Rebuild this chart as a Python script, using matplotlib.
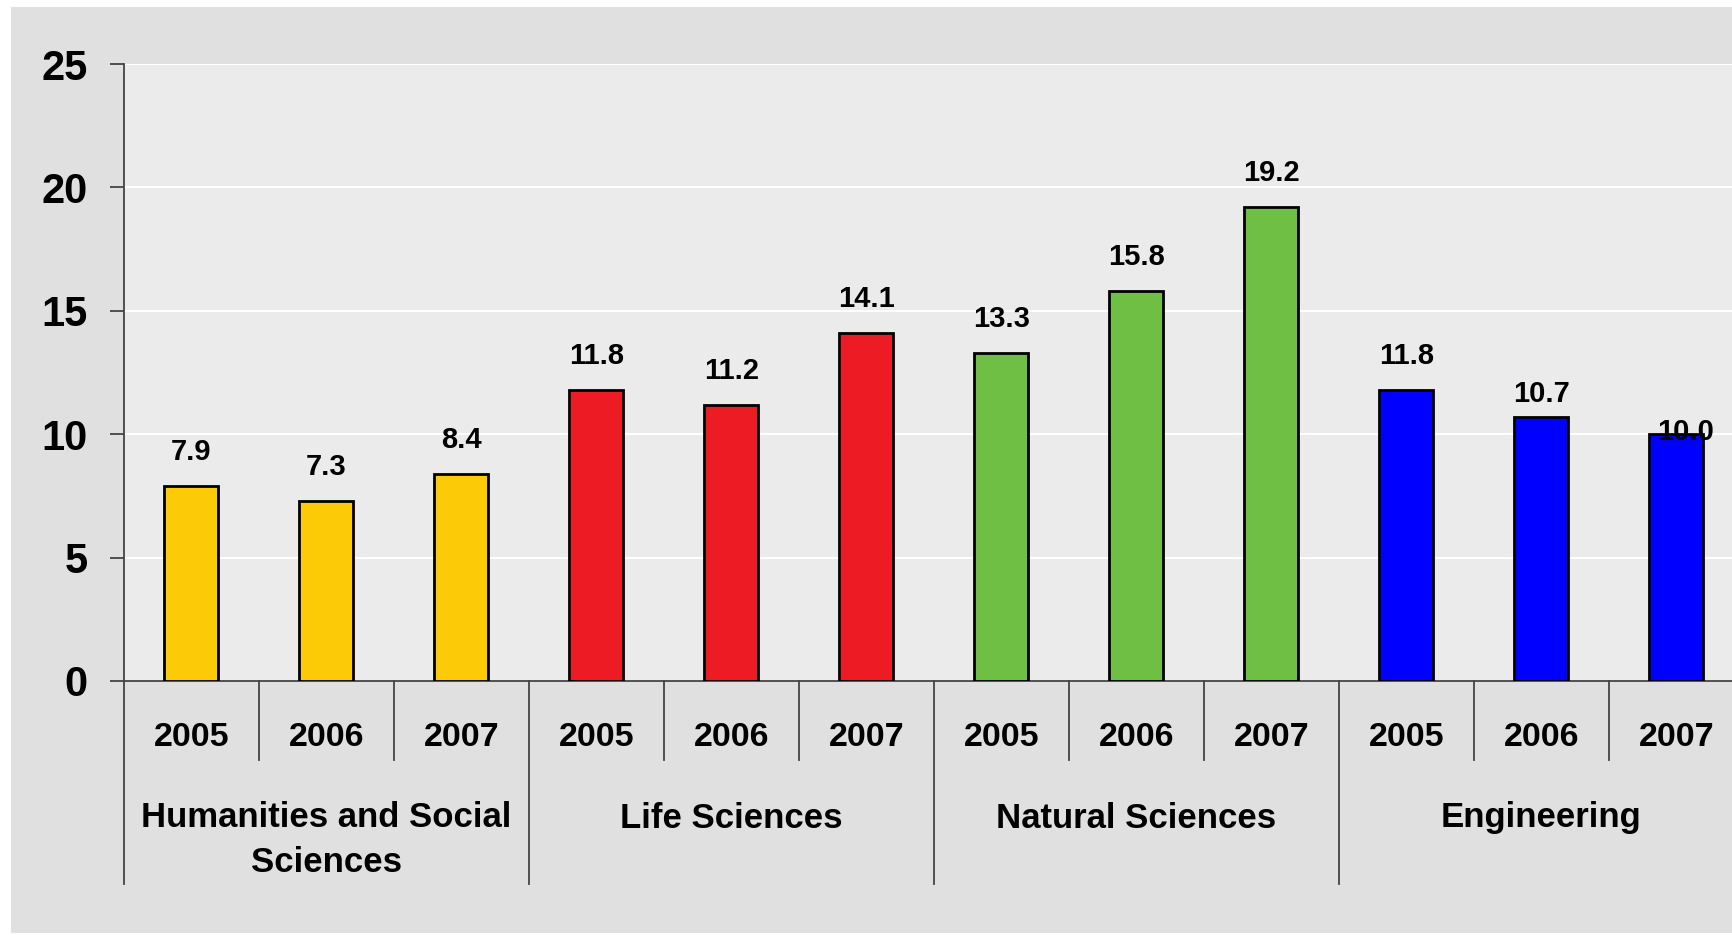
import matplotlib.pyplot as plt
import matplotlib.patches as mpatches
import numpy as np

groups = ["Humanities and Social\nSciences", "Life Sciences", "Natural Sciences", "Engineering"]
years = ["2005", "2006", "2007"]
values = [7.9, 7.3, 8.4, 11.8, 11.2, 14.1, 13.3, 15.8, 19.2, 11.8, 10.7, 10.0]
group_colors = ["#fdca08", "#ed1c24", "#6fbf44", "#0000ff"]

W, H = 1733, 935
fig = plt.figure(figsize=(W / 100, H / 100), dpi=100, facecolor="white")

# gray panel behind the chart
fig.patches.append(mpatches.Rectangle((11 / W, 1 - 933 / H), 1 - 11 / W, (933 - 7) / H,
                                      transform=fig.transFigure, facecolor="#e0e0e0",
                                      edgecolor="none", zorder=0))

# axes: x0=124px, y0=681px (value 0), top=64px (value 25), runs past right edge
ax = fig.add_axes([124 / W, 1 - 681 / H, 1 - 124 / W, (681 - 64) / H])
ax.set_facecolor("#ebebeb")
ax.set_zorder(1)

n = len(values)
x = np.arange(n)
colors = [group_colors[i // len(years)] for i in range(n)]
ax.bar(x, values, width=0.4, color=colors, edgecolor="black", linewidth=2, zorder=3)

slot = 135.0
ax.set_xlim(-0.5, -0.5 + (W - 124) / slot)
ax.set_ylim(0, 25)
ax.set_yticks(np.arange(0, 26, 5))
ax.yaxis.grid(True, color="white", linewidth=1.5, zorder=0)
ax.set_axisbelow(True)

font = "Liberation Sans"
ax.set_yticklabels([str(v) for v in range(0, 26, 5)], fontsize=30, fontweight="bold", family=font)
ax.tick_params(axis="y", length=10, width=1.3, color="#444444", pad=16)
ax.tick_params(axis="x", bottom=False, labelbottom=False)

for s in ["top", "right"]:
    ax.spines[s].set_visible(False)
for s in ["left", "bottom"]:
    ax.spines[s].set_color("#444444")
    ax.spines[s].set_linewidth(1.3)

# value labels (the last two sit lower, squeezed at the clipped right edge)
for i, v in enumerate(values):
    dx, dy = 0, 24.5
    if i == n - 2:
        dy = 16.5
    elif i == n - 1:
        dx, dy = 6.5, 1.5
    ax.annotate(f"{v:.1f}", (x[i], v), xytext=(dx, dy), textcoords="offset points",
                ha="center", va="center", fontsize=21, fontweight="bold", family=font, zorder=5)

# category axis below
ph = 681 - 64
tr = ax.get_xaxis_transform()
year_bot = -(760 - 681) / ph
group_bot = -(884 - 681) / ph
for i in range(n + 1):
    xb = i - 0.5
    bot = group_bot if i % len(years) == 0 else year_bot
    ax.plot([xb, xb], [0, bot], transform=tr, color="#444444", linewidth=1.3, clip_on=False)

for i in range(n):
    ax.text(x[i], -(738 - 681) / ph, years[i % len(years)], transform=tr, ha="center", va="center",
            fontsize=24.5, fontweight="bold", family=font)

for g, name in enumerate(groups):
    cx = g * len(years) + (len(years) - 1) / 2
    nl = name.count("\n")
    cy = 818 if nl == 0 else 840
    ax.text(cx, -(cy - 681) / ph, name, transform=tr, ha="center", va="center",
            fontsize=25, fontweight="bold", family=font, linespacing=1.45)

fig.savefig("out.png", dpi=100, facecolor=fig.get_facecolor())
